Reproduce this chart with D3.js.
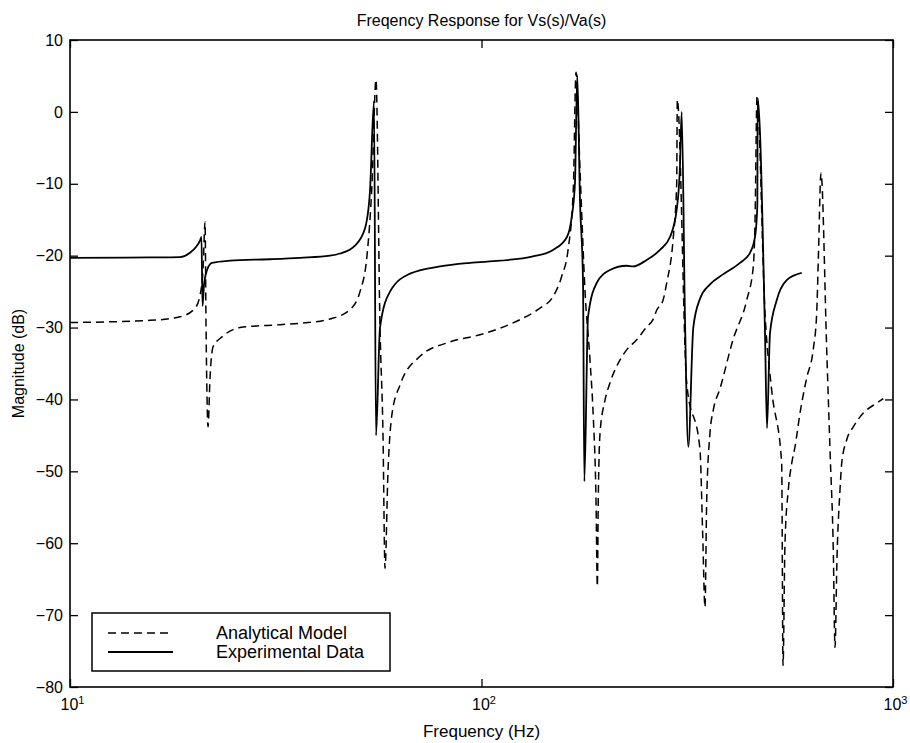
<!DOCTYPE html>
<html>
<head>
<meta charset="utf-8">
<script src="https://cdn.jsdelivr.net/npm/d3@7"></script>
<style>
  body { margin: 0; background: #fff; }
  text { font-family: "Liberation Sans", Arial, Helvetica, sans-serif; fill: #000; }
</style>
</head>
<body>
<div id="chart"></div>
<script>
// analytical model (dashed): frequency in Hz, magnitude in dB
const anaFreq = [10, 15.64, 18.51, 20.13, 20.70, 21.05, 21.29, 21.41, 21.65, 21.89, 22.26, 23.41, 25.89, 32.39, 36.23,
  42.84, 47.91, 50.67, 52.69, 54.19, 55.41, 56.67, 57.63, 58.28, 59.26, 60.61, 63.38, 70.89, 83.86, 99.17,
  110.9, 124.0, 138.7, 149.2, 156.6, 162.3, 167.1, 169.7, 173.5, 178.5, 183.5, 186.9, 189.8, 191.2, 192.2, 194.1,
  199.6, 205.2, 217.1, 225.3, 238.3, 252.0, 261.1, 266.5, 276.1, 281.9, 292.5, 298.1, 299.1,
  315.2, 339.6, 344.7, 349.2, 352.6, 359.1, 365.8, 379.8, 408.5, 441.0, 457.6, 462.0, 467.2,
  488.6, 507.2, 536.4, 540.4, 546.4, 556.6, 567.3, 577.9, 594.3, 617.0, 640.2, 652.5, 658.4, 668.4,
  690.1, 702.9, 716.0, 722.9, 731.0, 743.4, 750.5, 771.8, 800.8, 847.0, 912.8, 947.2];
const anaDb = [-29.3, -29.0, -28.5, -27.3, -25.5, -22.0, -15.3, -30.0, -43.8, -37.0, -32.7, -31.3, -30.0, -29.6, -29.4,
  -28.8, -27.5, -25.0, -20.0, -10.0, 4.5, -30.0, -45.0, -63.5, -50.0, -42.0, -38.0, -34.0, -32.0, -31.0,
  -30.1, -28.9, -27.3, -25.7, -22.9, -19.2, -10.9, 5.5, -8.0, -25.0, -34.5, -42.4, -54.0, -66.0, -54.0, -44.7,
  -40.1, -37.7, -34.5, -33.1, -31.7, -29.9, -28.9, -27.6, -26.2, -23.8, -17.4, -9.9, 1.7,
  -37.7, -47.0, -58.6, -68.9, -54.0, -44.7, -41.5, -38.5, -31.7, -26.2, -21.5, -15.5, 2.1,
  -28.0, -38.7, -48.9, -77.0, -60.0, -52.6, -48.9, -46.6, -41.9, -37.0, -33.0, -28.0, -20.6, -8.5,
  -33.1, -47.0, -61.0, -74.5, -62.0, -52.6, -48.9, -45.6, -43.8, -41.9, -40.5, -39.9];

// experimental data (solid)
const expFreq = [10, 15.64, 18.51, 19.57, 20.24, 20.70, 20.87, 20.99, 21.17, 21.53, 21.89, 22.14, 24.48, 30.62, 36.23,
  42.84, 45.30, 49.27, 52.11, 53.58, 54.80, 55.41, 56.67, 59.93, 67.03, 79.30, 93.77,
  110.9, 133.4, 149.2, 161.3, 165.7, 168.7, 170.9, 173.5, 176.5, 177.8, 181.5, 190.5, 205.2, 225.3, 233.4,
  252.0, 271.5, 287.1, 298.1, 303.6, 306.5, 312.2, 318.1, 327.1, 339.6, 359.1, 386.2, 424.8, 449.3,
  462.0, 468.0, 469.0, 488.6, 494.1, 502.4, 521.6, 551.7, 600.0];
const expDb = [-20.3, -20.25, -20.2, -19.6, -18.8, -17.9, -17.4, -27.0, -24.0, -22.0, -21.2, -21.0, -20.7, -20.5, -20.3,
  -20.0, -19.7, -18.6, -16.2, -11.0, 1.5, -45.0, -30.0, -25.0, -22.5, -21.5, -21.0,
  -20.7, -20.1, -19.2, -17.4, -14.6, -9.9, 5.1, -12.3, -23.8, -51.4, -28.5, -23.8, -22.0, -21.4, -21.5,
  -20.6, -19.2, -17.4, -13.6, -7.6, 0.0, -28.5, -46.6, -30.0, -26.0, -24.0, -22.6, -21.0, -19.6,
  -17.4, -13.2, 1.9, -30.8, -44.0, -30.8, -26.2, -23.4, -22.4];

const yTicks = [10, 0, -10, -20, -30, -40, -50, -60, -70, -80];
const xTicks = [10, 100, 1000];
const xTickExp = ["1", "2", "3"];
const legendLabels = ["Analytical Model", "Experimental Data"];

const width = 910;
const height = 743;
const plotL = 70, plotR = 893, plotT = 40, plotB = 687;

const svg = d3.select("#chart").append("svg")
  .attr("width", width)
  .attr("height", height);

const xScale = d3.scaleLog().domain([10, 1000]).range([plotL, plotR]);
const yScale = d3.scaleLinear().domain([-80, 10]).range([plotB, plotT]);

svg.append("clipPath").attr("id", "plot")
  .append("rect").attr("x", plotL).attr("y", plotT)
  .attr("width", plotR - plotL).attr("height", plotB - plotT);

// axes with inward ticks
const gy = svg.append("g").attr("transform", `translate(${plotL},0)`)
  .call(d3.axisLeft(yScale).tickValues(yTicks).tickSizeInner(-8).tickSizeOuter(0).tickPadding(7));
gy.selectAll("text").attr("font-size", "16px");

svg.append("g").attr("transform", `translate(${plotR},0)`)
  .call(d3.axisRight(yScale).tickValues(yTicks).tickSizeInner(-8).tickSizeOuter(0).tickFormat(""));

const gx = svg.append("g").attr("transform", `translate(0,${plotB})`)
  .call(d3.axisBottom(xScale).tickValues(xTicks).tickSizeInner(-8).tickSizeOuter(0).tickPadding(12));
gx.selectAll(".tick text")
  .attr("font-size", "16px")
  .attr("text-anchor", "start")
  .attr("x", -10)
  .each(function (d, i) {
    const t = d3.select(this);
    t.text("");
    t.append("tspan").text("10");
    t.append("tspan").attr("dy", "-0.55em").attr("font-size", "11px").text(xTickExp[i]);
  });

svg.append("g").attr("transform", `translate(0,${plotT})`)
  .call(d3.axisTop(xScale).tickValues(xTicks).tickSizeInner(-8).tickSizeOuter(0).tickFormat(""));

svg.selectAll(".domain").remove();
svg.selectAll(".tick line").attr("stroke", "#000").attr("stroke-width", 1.3);

svg.append("rect")
  .attr("x", plotL).attr("y", plotT)
  .attr("width", plotR - plotL).attr("height", plotB - plotT)
  .attr("fill", "none").attr("stroke", "#000").attr("stroke-width", 1.6);

// curves
const line = d3.line().curve(d3.curveMonotoneX)
  .x(d => xScale(d[0])).y(d => yScale(d[1]));
const anaData = anaFreq.map((f, i) => [f, anaDb[i]]);
const expData = expFreq.map((f, i) => [f, expDb[i]]);

const plot = svg.append("g").attr("clip-path", "url(#plot)");
plot.append("path").datum(anaData)
  .attr("d", line).attr("fill", "none").attr("stroke", "#000")
  .attr("stroke-width", 1.5).attr("stroke-dasharray", "8,5");
plot.append("path").datum(expData)
  .attr("d", line).attr("fill", "none").attr("stroke", "#000")
  .attr("stroke-width", 1.8);

// titles
svg.append("text").attr("x", (plotL + plotR) / 2).attr("y", 26)
  .attr("text-anchor", "middle").attr("font-size", "16px")
  .text("Freqency Response for Vs(s)/Va(s)");
svg.append("text").attr("x", (plotL + plotR) / 2).attr("y", 737)
  .attr("text-anchor", "middle").attr("font-size", "17px")
  .text("Frequency (Hz)");
svg.append("text")
  .attr("transform", `translate(24,${(plotT + plotB) / 2}) rotate(-90)`)
  .attr("text-anchor", "middle").attr("font-size", "16px")
  .text("Magnitude (dB)");

// legend
const lg = svg.append("g");
lg.append("rect").attr("x", 92).attr("y", 613).attr("width", 298).attr("height", 58)
  .attr("fill", "#fff").attr("stroke", "#000").attr("stroke-width", 1.5);
const dashes = ["8,5", null];
legendLabels.forEach((lab, i) => {
  const y = 633 + i * 19;
  lg.append("line").attr("x1", 108).attr("x2", 173).attr("y1", y).attr("y2", y)
    .attr("stroke", "#000").attr("stroke-width", i ? 1.8 : 1.5)
    .attr("stroke-dasharray", dashes[i]);
  lg.append("text").attr("x", 216).attr("y", y + 6).attr("font-size", "18px").text(lab);
});
</script>
</body>
</html>
